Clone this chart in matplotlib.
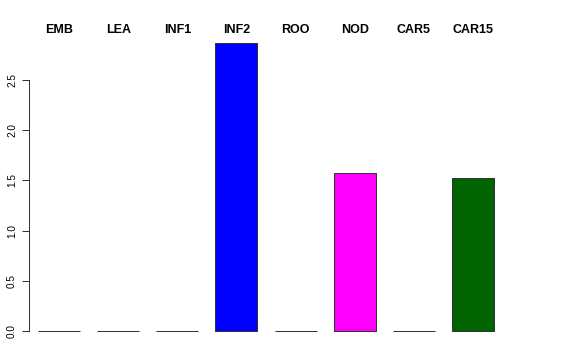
import matplotlib
matplotlib.use("Agg")
import matplotlib.pyplot as plt

categories = ["EMB", "LEA", "INF1", "INF2", "ROO", "NOD", "CAR5", "CAR15"]
values = [0.0, 0.0, 0.0, 2.87, 0.0, 1.575, 0.0, 1.525]
colors = ["red", "orange", "cyan", "blue", "brown", "magenta", "green", "darkgreen"]
yticks = [0.0, 0.5, 1.0, 1.5, 2.0, 2.5]
ytick_labels = ["0.0", "0.5", "1.0", "1.5", "2.0", "2.5"]

plt.rcParams['font.family'] = ['Liberation Sans', 'DejaVu Sans']

fig = plt.figure(figsize=(8, 5), dpi=72)
ax = fig.add_axes([29/576, 17.5/360, 474/576, 311.2/360])

x = list(range(len(categories)))
ax.bar(x, values, width=0.71, color=colors, edgecolor="#333333", linewidth=1.0)

ax.set_xlim(-0.507, 7.507)
ax.set_ylim(-0.115, 2.985)

for sp in ["top", "right", "bottom"]:
    ax.spines[sp].set_visible(False)
ax.spines["left"].set_bounds(0, 2.5)
ax.spines["left"].set_color("#333333")
ax.spines["left"].set_linewidth(1.0)
ax.set_xticks([])
ax.set_yticks(yticks)
ax.set_yticklabels(ytick_labels, rotation=90, va="center", fontsize=10)
ax.tick_params(axis="y", length=7, width=1.0, color="#333333", pad=5)

for xi, lab in zip(x, categories):
    ax.text(xi, 3.0, lab, ha="center", va="center", fontsize=12.5,
            fontweight="bold", clip_on=False)

fig.savefig("out.png", dpi=72)
